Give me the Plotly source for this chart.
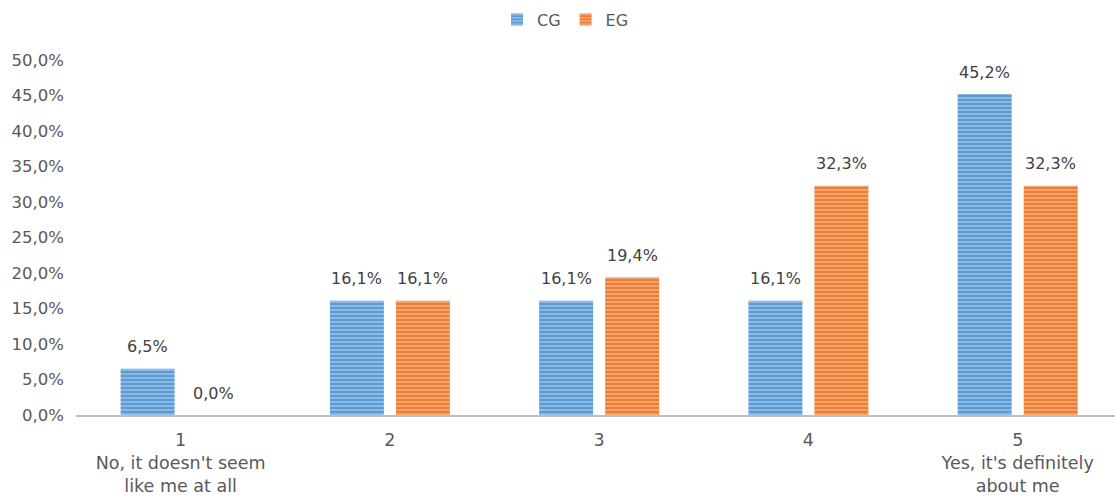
import plotly.graph_objects as go

categories = ["1", "2", "3", "4", "5"]
tick_labels = [
    "1<br>No, it doesn't seem<br>like me at all",
    "2",
    "3",
    "4",
    "5<br>Yes, it's definitely<br>about me",
]
series_names = ["CG", "EG"]
cg_values = [6.5, 16.1, 16.1, 16.1, 45.2]
eg_values = [0.0, 16.1, 19.4, 32.3, 32.3]
series_colors = ["#5b9bd5", "#ed7d31"]

FONT = "DejaVu Sans"
TEXT_GRAY = "#595959"
LABEL_GRAY = "#404040"


def striped_bar(name, values, color):
    return go.Bar(
        name=name,
        x=categories,
        y=values,
        marker=dict(
            color=color,
            line=dict(width=0),
            pattern=dict(shape="-", fgcolor="white", bgcolor=color,
                         size=4, solidity=0.3, fillmode="overlay"),
        ),
        hoverinfo="x+y",
    )


fig = go.Figure([
    striped_bar(series_names[0], cg_values, series_colors[0]),
    striped_bar(series_names[1], eg_values, series_colors[1]),
])

# value labels above each bar, offset to the left/right bar of the pair
for values, shift in ((cg_values, -33), (eg_values, 33)):
    for idx, val in enumerate(values):
        fig.add_annotation(
            x=idx, y=val, xref="x", yref="y",
            text=f"{val:.1f}%".replace(".", ","),
            showarrow=False, xshift=shift, yshift=22,
            yanchor="middle", xanchor="center",
            font=dict(family=FONT, size=16, color=LABEL_GRAY),
        )

fig.update_layout(
    width=1115,
    height=502,
    paper_bgcolor="white",
    plot_bgcolor="white",
    separators=",.",
    barmode="group",
    bargap=0.369,
    bargroupgap=0.182,
    margin=dict(l=76, r=0, t=60, b=87),
    font=dict(family=FONT, size=16, color=TEXT_GRAY),
    showlegend=True,
    legend=dict(
        orientation="h",
        xref="container", yref="container",
        x=0.5 + 8 / 1115, xanchor="center",
        y=0.995, yanchor="top",
        font=dict(family=FONT, size=16, color=TEXT_GRAY),
        itemwidth=30,
        traceorder="normal",
    ),
    xaxis=dict(
        type="category",
        range=[-0.5, 4.465],
        tickmode="array",
        tickvals=categories,
        ticktext=tick_labels,
        showline=True,
        linecolor="#bfbfbf",
        linewidth=2,
        ticks="",
        showgrid=False,
        ticklabelstandoff=8,
        tickfont=dict(family=FONT, size=17.5, color=TEXT_GRAY),
    ),
    yaxis=dict(
        range=[0, 50],
        dtick=5,
        tickformat=".1f",
        ticksuffix="%",
        showgrid=False,
        zeroline=False,
        showline=False,
        ticklabelstandoff=11,
        tickfont=dict(family=FONT, size=16.5, color=TEXT_GRAY),
    ),
)

fig.write_html("out.html")
